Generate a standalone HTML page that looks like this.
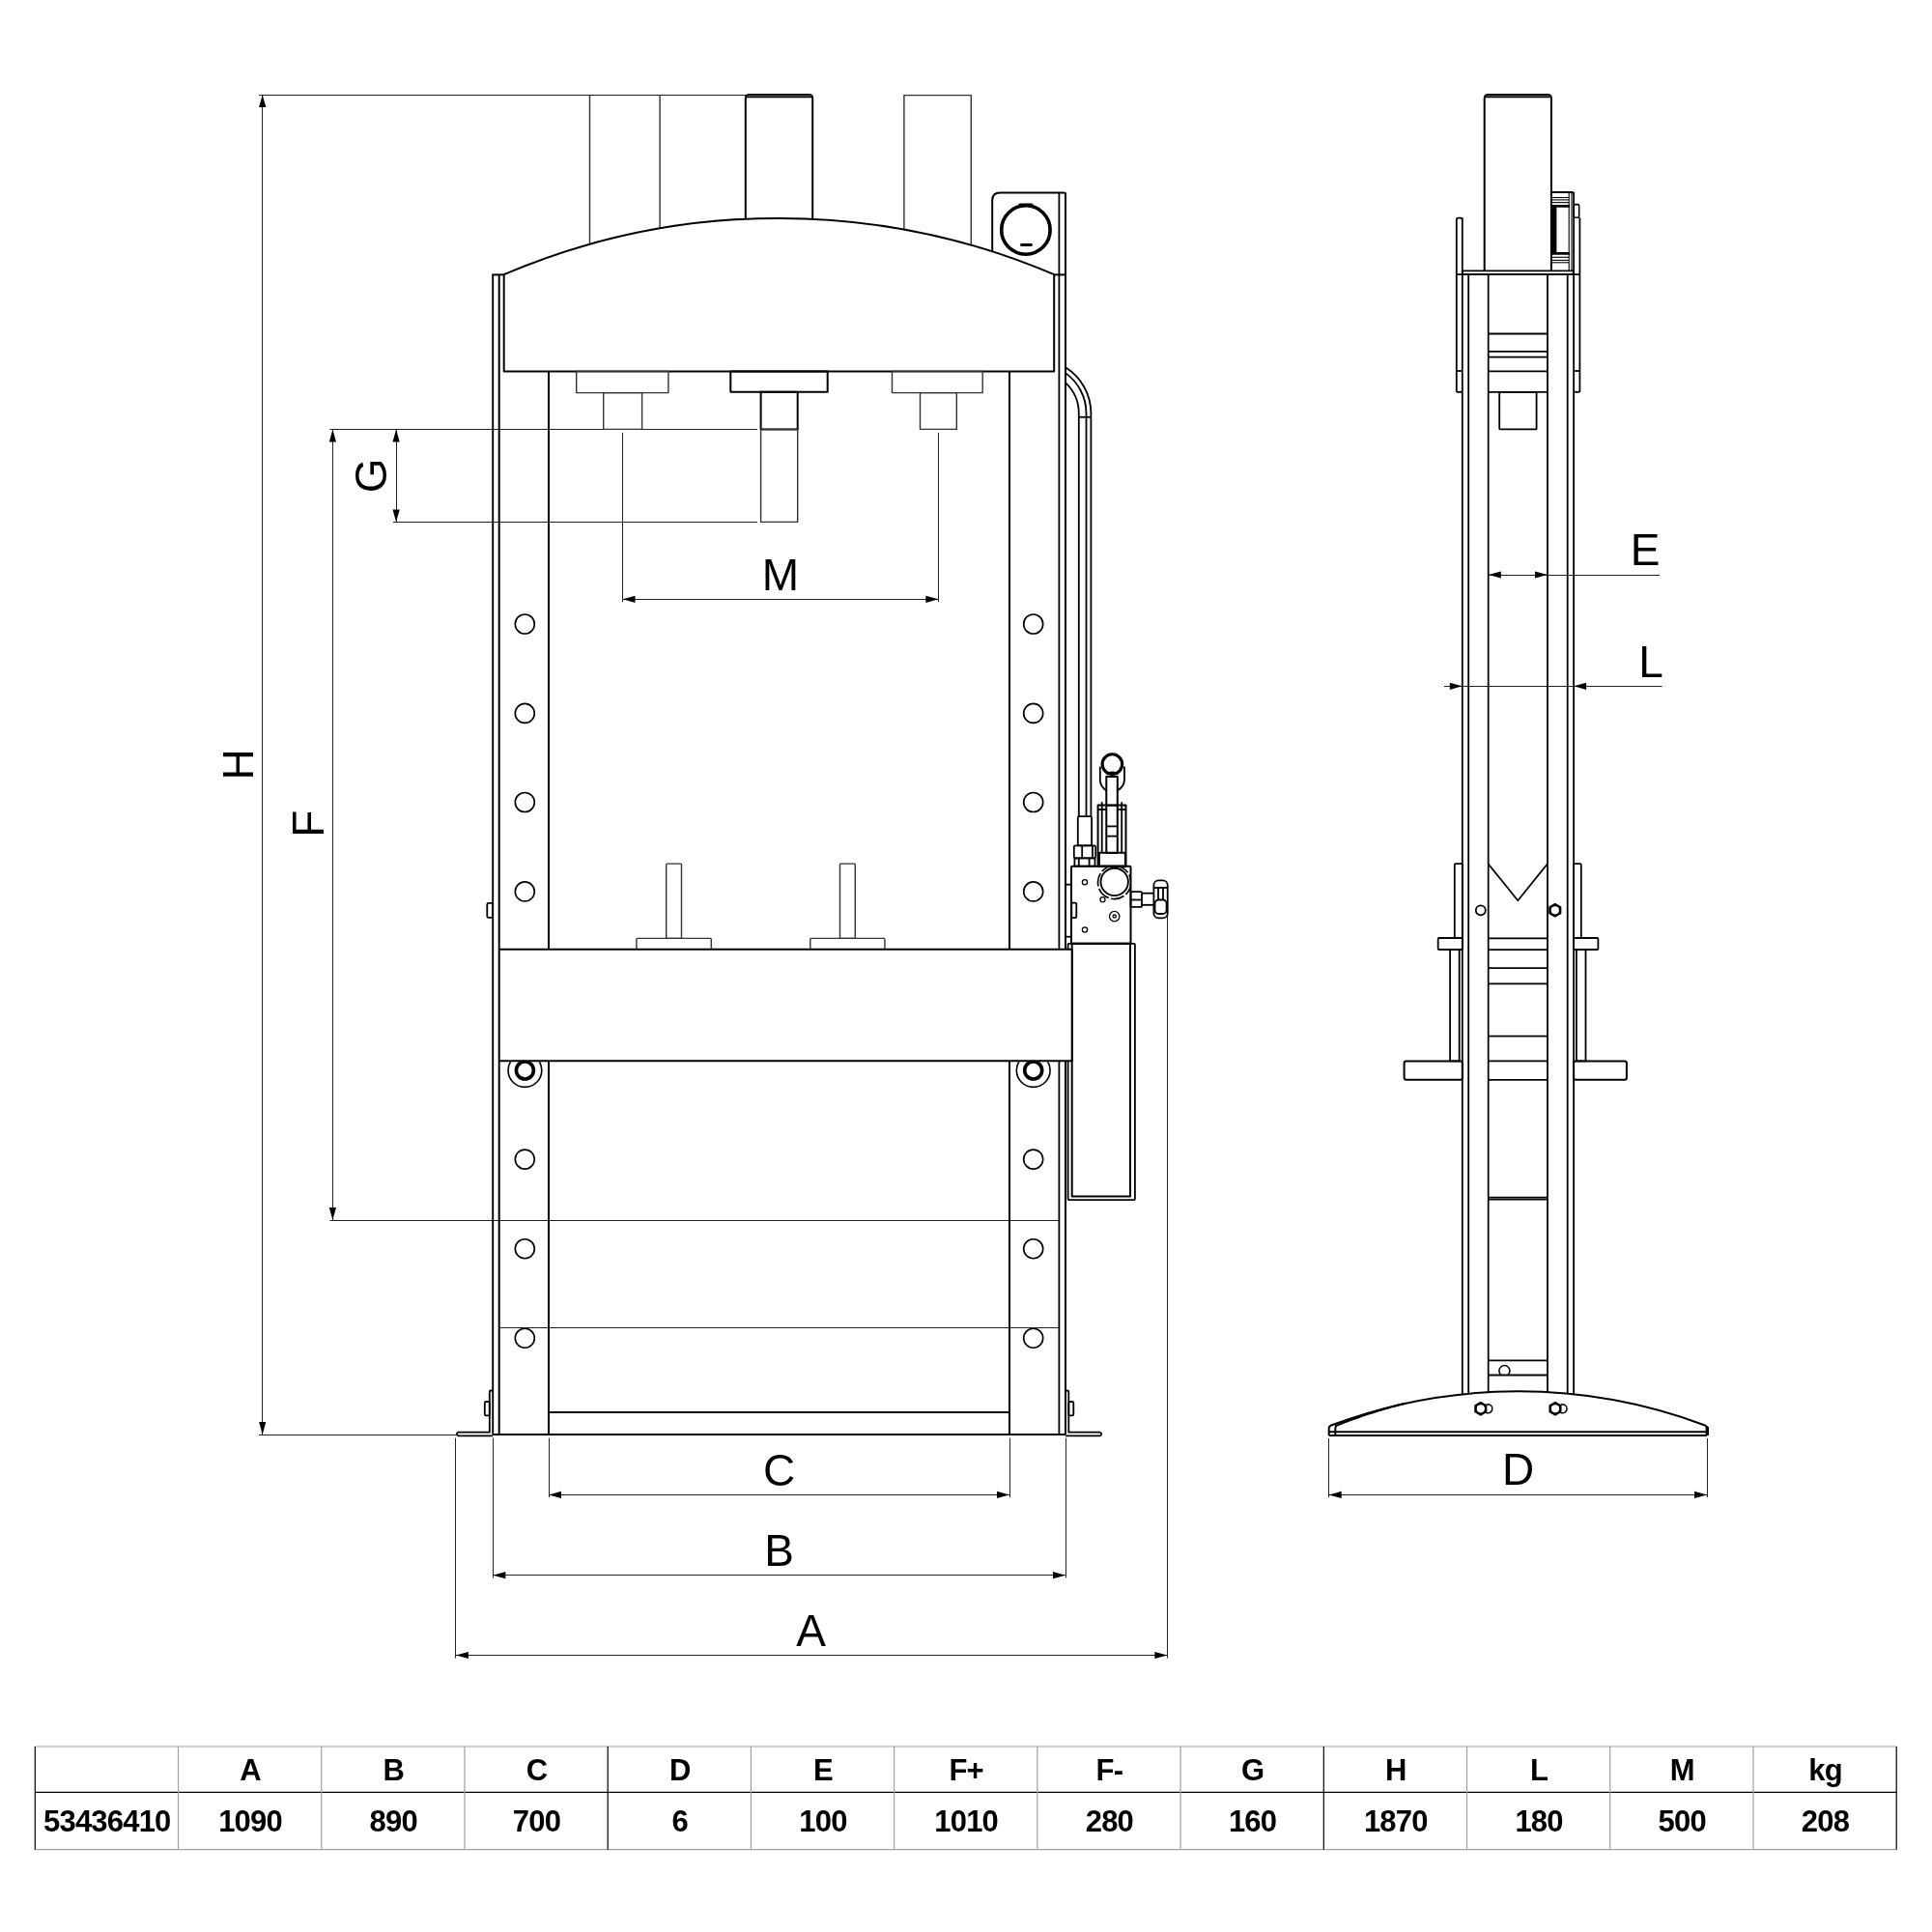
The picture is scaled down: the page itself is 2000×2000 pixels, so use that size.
<!DOCTYPE html>
<html><head><meta charset="utf-8"><style>
html,body{margin:0;padding:0;background:#fff;width:2000px;height:2000px;overflow:hidden}
svg{display:block;-webkit-font-smoothing:antialiased;will-change:transform}
text{font-family:"Liberation Sans",sans-serif}
</style></head><body>
<svg width="2000" height="2000" viewBox="0 0 2000 2000">
<rect width="2000" height="2000" fill="#fff"/>
<g stroke-linecap="butt" stroke-linejoin="round">
<line x1="268.00" y1="98.50" x2="773.00" y2="98.50" stroke="#222" stroke-width="1.0"/>
<line x1="268.00" y1="1485.50" x2="472.00" y2="1485.50" stroke="#222" stroke-width="1.0"/>
<line x1="271.50" y1="98.00" x2="271.50" y2="1485.00" stroke="#222" stroke-width="1.0"/>
<path d="M271.70,98.00 L275.30,111.00 L268.10,111.00 Z" fill="#000" stroke="none"/>
<path d="M271.70,1485.00 L268.10,1472.00 L275.30,1472.00 Z" fill="#000" stroke="none"/>
<text x="262.00" y="791.30" font-size="44" text-anchor="middle" font-weight="normal" fill="#000" transform="rotate(-90 262.00 791.30)">H</text>
<line x1="341.50" y1="444.50" x2="784.00" y2="444.50" stroke="#222" stroke-width="1.0"/>
<line x1="341.50" y1="1263.50" x2="1096.00" y2="1263.50" stroke="#222" stroke-width="1.0"/>
<line x1="344.50" y1="444.40" x2="344.50" y2="1263.00" stroke="#222" stroke-width="1.0"/>
<path d="M344.40,444.40 L348.00,457.40 L340.80,457.40 Z" fill="#000" stroke="none"/>
<path d="M344.40,1263.00 L340.80,1250.00 L348.00,1250.00 Z" fill="#000" stroke="none"/>
<text x="335.00" y="852.80" font-size="46" text-anchor="middle" font-weight="normal" fill="#000" transform="rotate(-90 335.00 852.80)">F</text>
<line x1="407.00" y1="540.50" x2="784.00" y2="540.50" stroke="#222" stroke-width="1.0"/>
<line x1="410.50" y1="444.40" x2="410.50" y2="540.40" stroke="#222" stroke-width="1.0"/>
<path d="M410.10,444.40 L413.70,457.40 L406.50,457.40 Z" fill="#000" stroke="none"/>
<path d="M410.10,540.40 L406.50,527.40 L413.70,527.40 Z" fill="#000" stroke="none"/>
<text x="400.00" y="492.30" font-size="46" text-anchor="middle" font-weight="normal" fill="#000" transform="rotate(-90 400.00 492.30)">G</text>
<line x1="644.50" y1="447.80" x2="644.50" y2="623.00" stroke="#222" stroke-width="1.0"/>
<line x1="971.50" y1="447.80" x2="971.50" y2="623.00" stroke="#222" stroke-width="1.0"/>
<line x1="644.50" y1="620.50" x2="971.40" y2="620.50" stroke="#222" stroke-width="1.0"/>
<path d="M644.50,620.30 L657.50,616.70 L657.50,623.90 Z" fill="#000" stroke="none"/>
<path d="M971.40,620.30 L958.40,623.90 L958.40,616.70 Z" fill="#000" stroke="none"/>
<text x="808.00" y="610.80" font-size="46" text-anchor="middle" font-weight="normal" fill="#000">M</text>
<line x1="568.50" y1="1488.70" x2="568.50" y2="1550.00" stroke="#222" stroke-width="1.0"/>
<line x1="1045.50" y1="1488.70" x2="1045.50" y2="1550.00" stroke="#222" stroke-width="1.0"/>
<line x1="568.00" y1="1547.50" x2="1045.00" y2="1547.50" stroke="#222" stroke-width="1.0"/>
<path d="M568.00,1547.40 L581.00,1543.80 L581.00,1551.00 Z" fill="#000" stroke="none"/>
<path d="M1045.00,1547.40 L1032.00,1551.00 L1032.00,1543.80 Z" fill="#000" stroke="none"/>
<text x="806.50" y="1538.00" font-size="46" text-anchor="middle" font-weight="normal" fill="#000">C</text>
<line x1="510.50" y1="1488.70" x2="510.50" y2="1633.50" stroke="#222" stroke-width="1.0"/>
<line x1="1103.50" y1="1488.70" x2="1103.50" y2="1633.50" stroke="#222" stroke-width="1.0"/>
<line x1="510.40" y1="1630.50" x2="1103.00" y2="1630.50" stroke="#222" stroke-width="1.0"/>
<path d="M510.40,1630.70 L523.40,1627.10 L523.40,1634.30 Z" fill="#000" stroke="none"/>
<path d="M1103.00,1630.70 L1090.00,1634.30 L1090.00,1627.10 Z" fill="#000" stroke="none"/>
<text x="806.50" y="1621.00" font-size="46" text-anchor="middle" font-weight="normal" fill="#000">B</text>
<line x1="471.50" y1="1488.70" x2="471.50" y2="1716.50" stroke="#222" stroke-width="1.0"/>
<line x1="1208.50" y1="914.00" x2="1208.50" y2="1716.50" stroke="#222" stroke-width="1.0"/>
<line x1="471.90" y1="1713.50" x2="1208.40" y2="1713.50" stroke="#222" stroke-width="1.0"/>
<path d="M471.90,1713.50 L484.90,1709.90 L484.90,1717.10 Z" fill="#000" stroke="none"/>
<path d="M1208.40,1713.50 L1195.40,1717.10 L1195.40,1709.90 Z" fill="#000" stroke="none"/>
<text x="839.60" y="1703.70" font-size="46" text-anchor="middle" font-weight="normal" fill="#000">A</text>
<line x1="610.50" y1="98.00" x2="610.50" y2="253.00" stroke="#333" stroke-width="1.4"/>
<line x1="683.10" y1="98.00" x2="683.10" y2="236.57" stroke="#333" stroke-width="1.4"/>
<path d="M771.8,226.83 L771.8,102 Q771.8,98 775.8,98 L837.2,98 Q841.2,98 841.2,102 L841.2,226.84" stroke="#000" stroke-width="2.0" fill="none" />
<rect x="773.5" y="98.6" width="66" height="2.2" fill="#555"/>
<line x1="773.00" y1="100.60" x2="840.00" y2="100.60" stroke="#000" stroke-width="1.2"/>
<path d="M935.9,237.67 L935.9,98.6 L1005.3,98.6 L1005.3,253.85" stroke="#333" stroke-width="1.4" fill="none" />
<path d="M1027.2,260.48 L1027.2,207.5 Q1027.2,199.5 1035.2,199.5 L1101,199.5 Q1103,199.5 1103,201.5" stroke="#000" stroke-width="2.0" fill="none" />
<circle cx="1061.90" cy="238.00" r="25.20" stroke="#000" stroke-width="3.6" fill="none"/>
<path d="M1055.8,212 L1068,212" stroke="#000" stroke-width="3.2" fill="none" stroke-linecap="round"/>
<path d="M1057.5,253.5 L1067.5,253.5" stroke="#000" stroke-width="2.8" fill="none" stroke-linecap="round"/>
<path d="M521.7,384.4 L521.7,284.2 A724.3,724.3 0 0 1 1091.2,284.2 L1091.2,384.4 Z" stroke="#000" stroke-width="2.0" fill="none" />
<line x1="509.20" y1="284.40" x2="521.70" y2="284.40" stroke="#000" stroke-width="2.0"/>
<line x1="1091.20" y1="284.40" x2="1104.00" y2="284.40" stroke="#000" stroke-width="2.0"/>
<line x1="510.20" y1="284.20" x2="510.20" y2="1485.00" stroke="#000" stroke-width="1.9"/>
<line x1="516.70" y1="284.20" x2="516.70" y2="982.80" stroke="#000" stroke-width="2.0"/>
<line x1="516.70" y1="1098.30" x2="516.70" y2="1485.00" stroke="#000" stroke-width="2.0"/>
<line x1="1096.40" y1="199.50" x2="1096.40" y2="982.80" stroke="#000" stroke-width="1.8"/>
<line x1="1096.40" y1="1098.30" x2="1096.40" y2="1485.00" stroke="#000" stroke-width="1.8"/>
<line x1="1103.00" y1="199.50" x2="1103.00" y2="982.80" stroke="#000" stroke-width="2.0"/>
<line x1="1103.00" y1="1098.30" x2="1103.00" y2="1485.00" stroke="#000" stroke-width="2.0"/>
<line x1="568.00" y1="384.40" x2="568.00" y2="982.80" stroke="#000" stroke-width="2.0"/>
<line x1="568.00" y1="1098.30" x2="568.00" y2="1485.00" stroke="#000" stroke-width="2.0"/>
<line x1="1045.00" y1="384.40" x2="1045.00" y2="982.80" stroke="#000" stroke-width="2.0"/>
<line x1="1045.00" y1="1098.30" x2="1045.00" y2="1485.00" stroke="#000" stroke-width="2.0"/>
<circle cx="543.30" cy="646.00" r="10.00" stroke="#000" stroke-width="1.65" fill="none"/>
<circle cx="543.30" cy="738.40" r="10.00" stroke="#000" stroke-width="1.65" fill="none"/>
<circle cx="543.30" cy="830.50" r="10.00" stroke="#000" stroke-width="1.65" fill="none"/>
<circle cx="543.30" cy="922.90" r="10.00" stroke="#000" stroke-width="1.65" fill="none"/>
<circle cx="543.30" cy="1200.10" r="10.00" stroke="#000" stroke-width="1.65" fill="none"/>
<circle cx="543.30" cy="1292.70" r="10.00" stroke="#000" stroke-width="1.65" fill="none"/>
<circle cx="543.30" cy="1385.20" r="10.00" stroke="#000" stroke-width="1.65" fill="none"/>
<circle cx="1069.70" cy="646.00" r="10.00" stroke="#000" stroke-width="1.65" fill="none"/>
<circle cx="1069.70" cy="738.40" r="10.00" stroke="#000" stroke-width="1.65" fill="none"/>
<circle cx="1069.70" cy="830.50" r="10.00" stroke="#000" stroke-width="1.65" fill="none"/>
<circle cx="1069.70" cy="922.90" r="10.00" stroke="#000" stroke-width="1.65" fill="none"/>
<circle cx="1069.70" cy="1200.10" r="10.00" stroke="#000" stroke-width="1.65" fill="none"/>
<circle cx="1069.70" cy="1292.70" r="10.00" stroke="#000" stroke-width="1.65" fill="none"/>
<circle cx="1069.70" cy="1385.20" r="10.00" stroke="#000" stroke-width="1.65" fill="none"/>
<clipPath id="cb"><rect x="0" y="1099.3" width="2000" height="900"/></clipPath>
<circle cx="543.40" cy="1108.00" r="9.00" stroke="#000" stroke-width="3.6" fill="none"/>
<circle cx="543.4" cy="1108" r="17.4" stroke="#000" stroke-width="1.6" fill="none" clip-path="url(#cb)"/>
<circle cx="1069.70" cy="1108.00" r="9.00" stroke="#000" stroke-width="3.6" fill="none"/>
<circle cx="1069.7" cy="1108" r="17.4" stroke="#000" stroke-width="1.6" fill="none" clip-path="url(#cb)"/>
<line x1="516.70" y1="1374.50" x2="1096.40" y2="1374.50" stroke="#222" stroke-width="1.0"/>
<line x1="568.00" y1="1462.00" x2="1045.00" y2="1462.00" stroke="#000" stroke-width="2.0"/>
<line x1="510.00" y1="1485.00" x2="1103.00" y2="1485.00" stroke="#000" stroke-width="2.0"/>
<path d="M474,1482.7 L506.8,1482.7 L506.8,1441 Q506.8,1439.5 508.3,1439.5 L510,1439.5" stroke="#000" stroke-width="1.8" fill="none" />
<path d="M474,1486.4 L510,1486.4" stroke="#000" stroke-width="1.8" fill="none" />
<path d="M474,1482.7 Q471.6,1484.5 474,1486.4" stroke="#000" stroke-width="1.8" fill="none" />
<rect x="501.80" y="1451.00" width="5.00" height="14.40" rx="1.5" stroke="#000" stroke-width="1.8" fill="none"/>
<path d="M1139,1482.7 L1106.3,1482.7 L1106.3,1441 Q1106.3,1439.5 1104.8,1439.5 L1103,1439.5" stroke="#000" stroke-width="1.8" fill="none" />
<path d="M1103,1486.4 L1139,1486.4" stroke="#000" stroke-width="1.8" fill="none" />
<path d="M1139,1482.7 Q1141.5,1484.5 1139,1486.4" stroke="#000" stroke-width="1.8" fill="none" />
<rect x="1106.30" y="1451.00" width="5.00" height="14.40" rx="1.5" stroke="#000" stroke-width="1.8" fill="none"/>
<rect x="504.30" y="934.90" width="5.70" height="15.00" rx="1.5" stroke="#000" stroke-width="1.8" fill="none"/>
<rect x="596.70" y="384.40" width="95.20" height="22.20" rx="0" stroke="#333" stroke-width="1.4" fill="none"/>
<rect x="624.70" y="406.60" width="39.90" height="37.80" rx="0" stroke="#333" stroke-width="1.4" fill="none"/>
<rect x="756.30" y="384.40" width="100.40" height="21.40" rx="0" stroke="#000" stroke-width="2.0" fill="none"/>
<rect x="787.60" y="405.80" width="38.10" height="38.60" rx="0" stroke="#000" stroke-width="2.0" fill="none"/>
<rect x="787.60" y="444.40" width="38.10" height="96.00" rx="0" stroke="#333" stroke-width="1.4" fill="none"/>
<rect x="923.50" y="384.40" width="93.70" height="22.20" rx="0" stroke="#333" stroke-width="1.4" fill="none"/>
<rect x="952.50" y="406.60" width="37.80" height="37.80" rx="0" stroke="#333" stroke-width="1.4" fill="none"/>
<rect x="658.90" y="971.40" width="77.40" height="11.40" rx="1" stroke="#333" stroke-width="1.4" fill="none"/>
<rect x="689.70" y="894.10" width="15.80" height="77.30" rx="1" stroke="#333" stroke-width="1.4" fill="none"/>
<rect x="838.80" y="971.40" width="77.10" height="11.40" rx="1" stroke="#333" stroke-width="1.4" fill="none"/>
<rect x="869.50" y="894.10" width="15.80" height="77.30" rx="1" stroke="#333" stroke-width="1.4" fill="none"/>
<path d="M1103,380.24 A56.4,56.4 0 0 1 1129.4,428 L1129.4,844.7" stroke="#000" stroke-width="1.8" fill="none" />
<path d="M1103,386.14 A51.5,51.5 0 0 1 1124.5,428 L1124.5,844.7" stroke="#000" stroke-width="1.8" fill="none" />
<path d="M1103,396.09 A43.8,43.8 0 0 1 1116.8,428 L1116.8,844.7" stroke="#000" stroke-width="1.8" fill="none" />
<line x1="1116.80" y1="431.80" x2="1129.40" y2="431.80" stroke="#000" stroke-width="1.8"/>
<rect x="1115.80" y="845.20" width="14.30" height="30.10" rx="1" stroke="#000" stroke-width="1.8" fill="none"/>
<rect x="1111.80" y="875.30" width="22.40" height="13.00" rx="1.5" stroke="#000" stroke-width="1.8" fill="none"/>
<line x1="1120.20" y1="876.00" x2="1120.20" y2="887.60" stroke="#000" stroke-width="1.8"/>
<line x1="1131.00" y1="876.00" x2="1131.00" y2="887.60" stroke="#000" stroke-width="1.8"/>
<rect x="1112.40" y="888.30" width="21.10" height="8.40" rx="0" stroke="#000" stroke-width="1.8" fill="none"/>
<line x1="1116.80" y1="888.30" x2="1116.80" y2="896.70" stroke="#000" stroke-width="1.8"/>
<line x1="1127.60" y1="888.30" x2="1127.60" y2="896.70" stroke="#000" stroke-width="1.8"/>
<rect x="1136.60" y="833.40" width="28.90" height="63.30" rx="0" stroke="#000" stroke-width="2.0" fill="none"/>
<line x1="1140.70" y1="830.20" x2="1140.70" y2="882.70" stroke="#000" stroke-width="1.8"/>
<line x1="1161.20" y1="830.20" x2="1161.20" y2="882.70" stroke="#000" stroke-width="1.8"/>
<line x1="1136.60" y1="838.00" x2="1145.30" y2="838.00" stroke="#000" stroke-width="1.8"/>
<line x1="1156.80" y1="838.00" x2="1165.50" y2="838.00" stroke="#000" stroke-width="1.8"/>
<rect x="1137.90" y="882.70" width="27.00" height="14.00" rx="0" stroke="#000" stroke-width="2.0" fill="none"/>
<rect x="1145.30" y="803.90" width="11.50" height="79.10" rx="0" stroke="#000" stroke-width="2.0" fill="none"/>
<line x1="1145.30" y1="833.70" x2="1156.80" y2="833.70" stroke="#000" stroke-width="1.8"/>
<line x1="1145.30" y1="855.40" x2="1156.80" y2="855.40" stroke="#000" stroke-width="1.8"/>
<line x1="1145.30" y1="865.60" x2="1156.80" y2="865.60" stroke="#000" stroke-width="1.8"/>
<path d="M1145.3,818.4 Q1138.8,814 1138.8,807.3 L1138.8,793.5 M1156.8,818.4 Q1164,814 1164,807.3 L1164,793.5" stroke="#000" stroke-width="1.8" fill="none" />
<circle cx="1151.40" cy="791.10" r="10.30" stroke="#000" stroke-width="3.1" fill="none"/>
<path d="M1145.5,801.5 Q1151.4,798 1157.3,801.5" stroke="#000" stroke-width="2.5" fill="none" />
<rect x="1109.00" y="896.70" width="61.50" height="80.10" rx="1" stroke="#000" stroke-width="2.0" fill="none"/>
<circle cx="1153.70" cy="912.90" r="14.20" stroke="#000" stroke-width="1.9" fill="none"/>
<clipPath id="cnut"><rect x="1100" y="897.5" width="70" height="60"/></clipPath>
<circle cx="1153.7" cy="913.4" r="17.2" stroke="#000" stroke-width="1.7" fill="none" clip-path="url(#cnut)" stroke-dasharray="14 2.5"/>
<circle cx="1141.50" cy="931.20" r="2.50" stroke="#000" stroke-width="1.3" fill="none"/>
<circle cx="1123.00" cy="913.20" r="2.60" stroke="#000" stroke-width="1.3" fill="none"/>
<circle cx="1123.00" cy="962.50" r="2.60" stroke="#000" stroke-width="1.3" fill="none"/>
<circle cx="1153.70" cy="948.60" r="5.20" stroke="#000" stroke-width="1.3" fill="none"/>
<circle cx="1153.70" cy="948.60" r="1.60" stroke="#000" stroke-width="1.3" fill="none"/>
<rect x="1109.30" y="934.60" width="5.00" height="15.50" rx="1.2" stroke="#000" stroke-width="1.8" fill="none"/>
<line x1="1103.00" y1="915.70" x2="1109.00" y2="915.70" stroke="#000" stroke-width="1.8"/>
<line x1="1103.00" y1="969.70" x2="1109.00" y2="969.70" stroke="#000" stroke-width="1.8"/>
<rect x="1170.50" y="923.10" width="11.50" height="15.80" rx="1" stroke="#000" stroke-width="1.8" fill="none"/>
<line x1="1170.50" y1="931.50" x2="1182.00" y2="931.50" stroke="#000" stroke-width="1.8"/>
<line x1="1182.00" y1="924.70" x2="1194.40" y2="924.70" stroke="#000" stroke-width="1.8"/>
<line x1="1182.00" y1="936.80" x2="1194.40" y2="936.80" stroke="#000" stroke-width="1.8"/>
<rect x="1194.40" y="911.30" width="14.30" height="39.10" rx="5" stroke="#000" stroke-width="1.8" fill="none"/>
<line x1="1194.40" y1="919.00" x2="1208.70" y2="919.00" stroke="#000" stroke-width="1.8"/>
<line x1="1199.00" y1="919.00" x2="1199.00" y2="931.00" stroke="#000" stroke-width="1.8"/>
<line x1="1204.00" y1="919.00" x2="1204.00" y2="931.00" stroke="#000" stroke-width="1.8"/>
<rect x="1195.50" y="931.50" width="12.10" height="14.50" rx="4" stroke="#000" stroke-width="1.8" fill="none"/>
<rect x="1105.60" y="976.80" width="69.30" height="265.30" rx="1" stroke="#000" stroke-width="1.8" fill="none"/>
<rect x="1109.70" y="976.80" width="60.30" height="261.80" rx="0" stroke="#000" stroke-width="2.0" fill="none"/>
<rect x="516.70" y="982.80" width="593.00" height="115.50" rx="0" stroke="#000" stroke-width="2.0" fill="#fff"/>
<path d="M1536.7,280 L1536.7,102 Q1536.7,98.1 1540.6,98.1 L1602,98.1 Q1605.9,98.1 1605.9,102 L1605.9,280" stroke="#000" stroke-width="2.0" fill="none" />
<rect x="1538.4" y="98.8" width="65.8" height="2.2" fill="#555"/>
<line x1="1538.00" y1="100.70" x2="1604.60" y2="100.70" stroke="#000" stroke-width="1.2"/>
<rect x="1513.80" y="280.30" width="114.80" height="3.90" rx="0" stroke="#000" stroke-width="1.8" fill="none"/>
<line x1="1507.60" y1="284.20" x2="1635.30" y2="284.20" stroke="#000" stroke-width="1.8"/>
<path d="M1507.8,405.8 L1507.8,227.6 Q1507.8,225.6 1509.8,225.6 L1511.8,225.6 Q1513.8,225.6 1513.8,227.6" stroke="#000" stroke-width="1.8" fill="none" />
<line x1="1507.80" y1="384.00" x2="1513.80" y2="384.00" stroke="#000" stroke-width="1.8"/>
<line x1="1507.80" y1="405.80" x2="1513.80" y2="405.80" stroke="#000" stroke-width="1.8"/>
<path d="M1605.9,199 L1627.2,199 Q1629.2,199 1629.2,201" stroke="#000" stroke-width="1.8" fill="none" />
<line x1="1635.40" y1="225.30" x2="1635.40" y2="405.80" stroke="#000" stroke-width="1.8"/>
<line x1="1629.20" y1="384.00" x2="1635.40" y2="384.00" stroke="#000" stroke-width="1.8"/>
<line x1="1629.20" y1="405.80" x2="1635.40" y2="405.80" stroke="#000" stroke-width="1.8"/>
<path d="M1606,211.9 L1625,211.9 L1625,214.7 L1611.4,214.7 L1611.4,260.9 L1625,260.9 L1625,263.7 L1606,263.7 Z" fill="#000"/>
<line x1="1606.00" y1="204.50" x2="1624.00" y2="204.50" stroke="#000" stroke-width="1.1"/>
<line x1="1606.00" y1="206.90" x2="1624.00" y2="206.90" stroke="#000" stroke-width="1.1"/>
<line x1="1606.00" y1="209.60" x2="1624.00" y2="209.60" stroke="#000" stroke-width="1.1"/>
<line x1="1606.00" y1="266.30" x2="1624.00" y2="266.30" stroke="#000" stroke-width="1.1"/>
<line x1="1606.00" y1="269.40" x2="1624.00" y2="269.40" stroke="#000" stroke-width="1.1"/>
<line x1="1606.00" y1="271.80" x2="1624.00" y2="271.80" stroke="#000" stroke-width="1.1"/>
<line x1="1624.20" y1="200.00" x2="1624.20" y2="280.00" stroke="#000" stroke-width="1.1"/>
<line x1="1627.00" y1="200.00" x2="1627.00" y2="280.00" stroke="#000" stroke-width="1.1"/>
<rect x="1629.30" y="211.60" width="5.40" height="13.70" rx="1.5" stroke="#000" stroke-width="1.6" fill="none"/>
<line x1="1520.20" y1="284.20" x2="1520.20" y2="1442.59" stroke="#000" stroke-width="1.8"/>
<line x1="1540.70" y1="284.20" x2="1540.70" y2="1441.06" stroke="#000" stroke-width="1.8"/>
<line x1="1602.00" y1="284.20" x2="1602.00" y2="1441.05" stroke="#000" stroke-width="1.8"/>
<line x1="1622.70" y1="284.20" x2="1622.70" y2="1442.60" stroke="#000" stroke-width="1.8"/>
<line x1="1513.80" y1="225.60" x2="1513.80" y2="1443.23" stroke="#000" stroke-width="1.8"/>
<line x1="1629.10" y1="199.00" x2="1629.10" y2="1443.24" stroke="#000" stroke-width="1.8"/>
<line x1="1540.70" y1="345.50" x2="1602.00" y2="345.50" stroke="#000" stroke-width="1.8"/>
<line x1="1540.70" y1="363.80" x2="1602.00" y2="363.80" stroke="#000" stroke-width="1.8"/>
<line x1="1540.70" y1="369.60" x2="1602.00" y2="369.60" stroke="#000" stroke-width="1.8"/>
<line x1="1540.70" y1="384.40" x2="1602.00" y2="384.40" stroke="#000" stroke-width="1.8"/>
<line x1="1540.70" y1="405.80" x2="1602.00" y2="405.80" stroke="#000" stroke-width="1.8"/>
<rect x="1552.20" y="405.80" width="38.40" height="38.60" rx="1" stroke="#000" stroke-width="1.8" fill="none"/>
<line x1="1540.80" y1="595.50" x2="1718.00" y2="595.50" stroke="#222" stroke-width="1.0"/>
<path d="M1540.80,595.00 L1553.80,591.40 L1553.80,598.60 Z" fill="#000" stroke="none"/>
<path d="M1602.00,595.00 L1589.00,598.60 L1589.00,591.40 Z" fill="#000" stroke="none"/>
<text x="1703.00" y="585.40" font-size="46" text-anchor="middle" font-weight="normal" fill="#000">E</text>
<line x1="1495.00" y1="710.50" x2="1720.70" y2="710.50" stroke="#222" stroke-width="1.0"/>
<path d="M1513.80,710.30 L1500.80,713.90 L1500.80,706.70 Z" fill="#000" stroke="none"/>
<path d="M1629.10,710.30 L1642.10,706.70 L1642.10,713.90 Z" fill="#000" stroke="none"/>
<text x="1709.00" y="700.50" font-size="46" text-anchor="middle" font-weight="normal" fill="#000">L</text>
<rect x="1505.80" y="894.20" width="8.10" height="76.80" rx="1" stroke="#000" stroke-width="1.8" fill="none"/>
<rect x="1629.10" y="894.20" width="7.70" height="76.80" rx="1" stroke="#000" stroke-width="1.8" fill="none"/>
<rect x="1488.70" y="971.00" width="25.20" height="12.00" rx="1" stroke="#000" stroke-width="1.8" fill="none"/>
<rect x="1629.10" y="971.00" width="25.30" height="12.00" rx="1" stroke="#000" stroke-width="1.8" fill="none"/>
<path d="M1540.6,894.2 L1571.3,932.2 L1601.9,894.2" stroke="#000" stroke-width="1.8" fill="none" />
<circle cx="1532.80" cy="942.30" r="5.00" stroke="#000" stroke-width="1.8" fill="none"/>
<path d="M1609.80,935.80 L1615.43,939.05 L1615.43,945.55 L1609.80,948.80 L1604.17,945.55 L1604.17,939.05 Z" stroke="#000" stroke-width="1.8" fill="none" />
<circle cx="1609.80" cy="942.30" r="5.00" stroke="#000" stroke-width="1.8" fill="none"/>
<line x1="1540.60" y1="971.30" x2="1601.90" y2="971.30" stroke="#000" stroke-width="1.8"/>
<line x1="1540.60" y1="983.10" x2="1601.90" y2="983.10" stroke="#000" stroke-width="1.8"/>
<line x1="1540.60" y1="1002.10" x2="1601.90" y2="1002.10" stroke="#000" stroke-width="1.8"/>
<line x1="1540.60" y1="1018.40" x2="1601.90" y2="1018.40" stroke="#000" stroke-width="1.8"/>
<line x1="1540.60" y1="1072.70" x2="1601.90" y2="1072.70" stroke="#000" stroke-width="1.8"/>
<line x1="1540.60" y1="1098.40" x2="1601.90" y2="1098.40" stroke="#000" stroke-width="1.8"/>
<line x1="1540.60" y1="1117.80" x2="1601.90" y2="1117.80" stroke="#000" stroke-width="1.8"/>
<rect x="1501.10" y="983.00" width="9.60" height="115.40" rx="0" stroke="#000" stroke-width="1.8" fill="none"/>
<rect x="1631.90" y="983.00" width="9.60" height="115.40" rx="0" stroke="#000" stroke-width="1.8" fill="none"/>
<rect x="1453.60" y="1098.40" width="60.30" height="19.40" rx="2" stroke="#000" stroke-width="2.0" fill="none"/>
<rect x="1629.10" y="1098.40" width="54.80" height="19.40" rx="2" stroke="#000" stroke-width="2.0" fill="none"/>
<line x1="1540.40" y1="1239.60" x2="1602.00" y2="1239.60" stroke="#000" stroke-width="1.8"/>
<line x1="1540.40" y1="1241.70" x2="1602.00" y2="1241.70" stroke="#000" stroke-width="1.8"/>
<line x1="1540.40" y1="1408.30" x2="1602.00" y2="1408.30" stroke="#000" stroke-width="1.8"/>
<line x1="1540.40" y1="1423.50" x2="1602.00" y2="1423.50" stroke="#000" stroke-width="1.8"/>
<clipPath id="cs"><rect x="1500" y="1400" width="200" height="22.8"/></clipPath>
<circle cx="1557.4" cy="1419.1" r="5.5" stroke="#000" stroke-width="1.5" fill="none" clip-path="url(#cs)"/>
<path d="M1375.7,1486 L1375.7,1478 Q1376,1476.3 1378,1475.5 A549.4,549.4 0 0 1 1765,1475.5 L1767,1477 L1767,1486" stroke="#000" stroke-width="2.0" fill="none" />
<line x1="1375.70" y1="1482.20" x2="1767.00" y2="1482.20" stroke="#000" stroke-width="2.0"/>
<line x1="1375.70" y1="1485.90" x2="1767.00" y2="1485.90" stroke="#000" stroke-width="2.0"/>
<path d="M1382.3,1486 L1382.3,1479 L1383.00,1475.88 L1386.00,1474.70 L1389.00,1473.53 L1392.00,1472.39 L1395.00,1471.26 L1398.00,1470.16 L1401.00,1469.07 L1404.00,1468.00 L1407.00,1466.95 L1410.00,1465.92 L1413.00,1464.91 L1416.00,1463.92 L1419.00,1462.94 L1422.00,1461.99 L1425.00,1461.05 L1428.00,1460.13 L1431.00,1459.23 L1434.00,1458.35 L1437.00,1457.48 L1440.00,1456.64 L1443.00,1455.81 L1446.00,1455.00 L1449.00,1454.21 L1452.00,1453.43 L1455.00,1452.67" stroke="#000" stroke-width="2.0" fill="none" />
<line x1="1766.60" y1="1476.50" x2="1766.60" y2="1486.00" stroke="#000" stroke-width="2.0"/>
<line x1="1768.20" y1="1477.00" x2="1768.20" y2="1486.00" stroke="#000" stroke-width="1.6"/>
<path d="M1532.80,1451.80 L1538.43,1455.05 L1538.43,1461.55 L1532.80,1464.80 L1527.17,1461.55 L1527.17,1455.05 Z" stroke="#000" stroke-width="1.8" fill="none" />
<circle cx="1532.80" cy="1458.30" r="5.00" stroke="#000" stroke-width="1.8" fill="none"/>
<path d="M1538.30,1454.3 A4.5,4.5 0 1 1 1538.30,1462.3" stroke="#000" stroke-width="1.5" fill="none"/>
<path d="M1610.00,1451.80 L1615.63,1455.05 L1615.63,1461.55 L1610.00,1464.80 L1604.37,1461.55 L1604.37,1455.05 Z" stroke="#000" stroke-width="1.8" fill="none" />
<circle cx="1610.00" cy="1458.30" r="5.00" stroke="#000" stroke-width="1.8" fill="none"/>
<path d="M1615.50,1454.3 A4.5,4.5 0 1 1 1615.50,1462.3" stroke="#000" stroke-width="1.5" fill="none"/>
<line x1="1375.50" y1="1489.00" x2="1375.50" y2="1550.00" stroke="#222" stroke-width="1.0"/>
<line x1="1767.50" y1="1489.00" x2="1767.50" y2="1550.00" stroke="#222" stroke-width="1.0"/>
<line x1="1375.70" y1="1547.50" x2="1767.00" y2="1547.50" stroke="#222" stroke-width="1.0"/>
<path d="M1375.70,1547.40 L1388.70,1543.80 L1388.70,1551.00 Z" fill="#000" stroke="none"/>
<path d="M1767.00,1547.40 L1754.00,1551.00 L1754.00,1543.80 Z" fill="#000" stroke="none"/>
<text x="1571.50" y="1537.00" font-size="46" text-anchor="middle" font-weight="normal" fill="#000">D</text>
<line x1="36.3" y1="1808" x2="1963.2" y2="1808" stroke="#a0a0a0" stroke-width="1.2"/>
<line x1="36.3" y1="1914.7" x2="1963.2" y2="1914.7" stroke="#a0a0a0" stroke-width="1.2"/>
<line x1="36.3" y1="1855.4" x2="1963.2" y2="1855.4" stroke="#000" stroke-width="1.2"/>
<line x1="36.3" y1="1808" x2="36.3" y2="1914.7" stroke="#000" stroke-width="1.2"/>
<line x1="1963.2" y1="1808" x2="1963.2" y2="1914.7" stroke="#000" stroke-width="1.2"/>
<line x1="184.52" y1="1808" x2="184.52" y2="1914.7" stroke="#a0a0a0" stroke-width="1.2"/>
<line x1="332.75" y1="1808" x2="332.75" y2="1914.7" stroke="#a0a0a0" stroke-width="1.2"/>
<line x1="480.97" y1="1808" x2="480.97" y2="1914.7" stroke="#a0a0a0" stroke-width="1.2"/>
<line x1="629.19" y1="1808" x2="629.19" y2="1914.7" stroke="#000" stroke-width="1.2"/>
<line x1="777.42" y1="1808" x2="777.42" y2="1914.7" stroke="#a0a0a0" stroke-width="1.2"/>
<line x1="925.64" y1="1808" x2="925.64" y2="1914.7" stroke="#a0a0a0" stroke-width="1.2"/>
<line x1="1073.86" y1="1808" x2="1073.86" y2="1914.7" stroke="#a0a0a0" stroke-width="1.2"/>
<line x1="1222.08" y1="1808" x2="1222.08" y2="1914.7" stroke="#a0a0a0" stroke-width="1.2"/>
<line x1="1370.31" y1="1808" x2="1370.31" y2="1914.7" stroke="#000" stroke-width="1.2"/>
<line x1="1518.53" y1="1808" x2="1518.53" y2="1914.7" stroke="#a0a0a0" stroke-width="1.2"/>
<line x1="1666.75" y1="1808" x2="1666.75" y2="1914.7" stroke="#a0a0a0" stroke-width="1.2"/>
<line x1="1814.98" y1="1808" x2="1814.98" y2="1914.7" stroke="#a0a0a0" stroke-width="1.2"/>
<text x="110.81" y="1896.10" font-size="31" text-anchor="middle" font-weight="bold" fill="#000" letter-spacing="-0.8">53436410</text>
<text x="259.03" y="1843.10" font-size="31" text-anchor="middle" font-weight="bold" fill="#000" letter-spacing="-0.8">A</text>
<text x="259.03" y="1896.10" font-size="31" text-anchor="middle" font-weight="bold" fill="#000" letter-spacing="-0.8">1090</text>
<text x="407.26" y="1843.10" font-size="31" text-anchor="middle" font-weight="bold" fill="#000" letter-spacing="-0.8">B</text>
<text x="407.26" y="1896.10" font-size="31" text-anchor="middle" font-weight="bold" fill="#000" letter-spacing="-0.8">890</text>
<text x="555.48" y="1843.10" font-size="31" text-anchor="middle" font-weight="bold" fill="#000" letter-spacing="-0.8">C</text>
<text x="555.48" y="1896.10" font-size="31" text-anchor="middle" font-weight="bold" fill="#000" letter-spacing="-0.8">700</text>
<text x="703.70" y="1843.10" font-size="31" text-anchor="middle" font-weight="bold" fill="#000" letter-spacing="-0.8">D</text>
<text x="703.70" y="1896.10" font-size="31" text-anchor="middle" font-weight="bold" fill="#000" letter-spacing="-0.8">6</text>
<text x="851.93" y="1843.10" font-size="31" text-anchor="middle" font-weight="bold" fill="#000" letter-spacing="-0.8">E</text>
<text x="851.93" y="1896.10" font-size="31" text-anchor="middle" font-weight="bold" fill="#000" letter-spacing="-0.8">100</text>
<text x="1000.15" y="1843.10" font-size="31" text-anchor="middle" font-weight="bold" fill="#000" letter-spacing="-0.8">F+</text>
<text x="1000.15" y="1896.10" font-size="31" text-anchor="middle" font-weight="bold" fill="#000" letter-spacing="-0.8">1010</text>
<text x="1148.37" y="1843.10" font-size="31" text-anchor="middle" font-weight="bold" fill="#000" letter-spacing="-0.8">F-</text>
<text x="1148.37" y="1896.10" font-size="31" text-anchor="middle" font-weight="bold" fill="#000" letter-spacing="-0.8">280</text>
<text x="1296.60" y="1843.10" font-size="31" text-anchor="middle" font-weight="bold" fill="#000" letter-spacing="-0.8">G</text>
<text x="1296.60" y="1896.10" font-size="31" text-anchor="middle" font-weight="bold" fill="#000" letter-spacing="-0.8">160</text>
<text x="1444.82" y="1843.10" font-size="31" text-anchor="middle" font-weight="bold" fill="#000" letter-spacing="-0.8">H</text>
<text x="1444.82" y="1896.10" font-size="31" text-anchor="middle" font-weight="bold" fill="#000" letter-spacing="-0.8">1870</text>
<text x="1593.04" y="1843.10" font-size="31" text-anchor="middle" font-weight="bold" fill="#000" letter-spacing="-0.8">L</text>
<text x="1593.04" y="1896.10" font-size="31" text-anchor="middle" font-weight="bold" fill="#000" letter-spacing="-0.8">180</text>
<text x="1741.27" y="1843.10" font-size="31" text-anchor="middle" font-weight="bold" fill="#000" letter-spacing="-0.8">M</text>
<text x="1741.27" y="1896.10" font-size="31" text-anchor="middle" font-weight="bold" fill="#000" letter-spacing="-0.8">500</text>
<text x="1889.49" y="1843.10" font-size="31" text-anchor="middle" font-weight="bold" fill="#000" letter-spacing="-0.8">kg</text>
<text x="1889.49" y="1896.10" font-size="31" text-anchor="middle" font-weight="bold" fill="#000" letter-spacing="-0.8">208</text>
</g>
</svg>
</body></html>
